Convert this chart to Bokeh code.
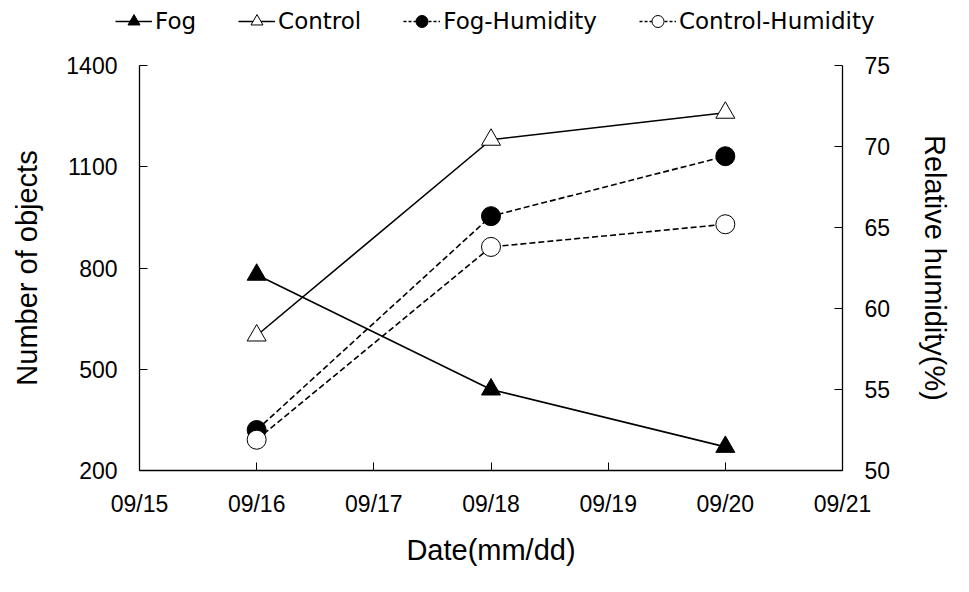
from bokeh.plotting import figure
from bokeh.models import Range1d, LinearAxis, Legend, LegendItem, FixedTicker
from bokeh.embed import file_html
from bokeh.resources import INLINE

dates = ["09/16", "09/18", "09/20"]
fog = [780, 440, 270]
control = [600, 1180, 1260]
fog_humidity = [52.5, 65.7, 69.4]
control_humidity = [51.9, 63.8, 65.2]
x_tick_labels = ["09/15", "09/16", "09/17", "09/18", "09/19", "09/20", "09/21"]
left_ticks = [200, 500, 800, 1100, 1400]
right_ticks = [50, 55, 60, 65, 70, 75]
series_names = ["Fog", "Control", "Fog-Humidity", "Control-Humidity"]

def day(s):
    return int(s.split("/")[1])

xs = [day(d) for d in dates]
tick_days = [day(t) for t in x_tick_labels]

W = 969
LEG_H = 40
H = 592 - LEG_H

p = figure(width=W, height=H, output_backend="svg", toolbar_location=None,
           x_range=Range1d(15, 21), y_range=Range1d(200, 1400),
           min_border_left=139, min_border_right=127, min_border_top=65 - LEG_H,
           min_border_bottom=122)
p.extra_y_ranges = {"hum": Range1d(50, 75)}
p.outline_line_color = None
p.xgrid.visible = False
p.ygrid.visible = False

TICK_FONT = "Liberation Sans"
LABEL_FONT = "Liberation Sans"

def style_axis(ax):
    ax.major_tick_in = 8
    ax.major_tick_out = 0
    ax.minor_tick_line_color = None
    ax.axis_line_color = "black"
    ax.axis_line_width = 1.3
    ax.major_tick_line_color = "black"
    ax.major_label_text_font = TICK_FONT
    ax.major_label_text_font_size = "23px"
    ax.major_label_text_color = "black"
    ax.axis_label_text_font = LABEL_FONT
    ax.axis_label_text_font_style = "normal"
    ax.axis_label_text_font_size = "29px"
    ax.axis_label_text_color = "black"

style_axis(p.xaxis[0])
p.xaxis[0].ticker = FixedTicker(ticks=tick_days)
p.xaxis[0].major_label_overrides = {d: t for d, t in zip(tick_days, x_tick_labels)}
p.xaxis[0].axis_label = "Date(mm/dd)"
p.xaxis[0].major_label_standoff = 20
p.xaxis[0].axis_label_standoff = 14

style_axis(p.yaxis[0])
p.yaxis[0].ticker = FixedTicker(ticks=left_ticks)
p.yaxis[0].axis_label = "Number of objects"
p.yaxis[0].major_label_standoff = 22
p.yaxis[0].axis_label_standoff = 20

ax2 = LinearAxis(y_range_name="hum", axis_label="Relative humidity(%)")
style_axis(ax2)
ax2.ticker = FixedTicker(ticks=right_ticks)
ax2.major_label_standoff = 22
ax2.axis_label_standoff = 26
p.add_layout(ax2, "right")

LW = 1.6
DASH = "6 3"
p.line(xs, fog, line_color="black", line_width=LW)
p.scatter(xs, fog, marker="triangle", size=19, fill_color="black", line_color="black")
p.line(xs, control, line_color="black", line_width=LW)
p.scatter(xs, control, marker="triangle", size=19, fill_color="white", line_color="black")
p.line(xs, fog_humidity, y_range_name="hum", line_color="black", line_width=LW, line_dash=DASH)
p.scatter(xs, fog_humidity, y_range_name="hum", marker="circle", size=19, fill_color="black", line_color="black")
p.line(xs, control_humidity, y_range_name="hum", line_color="black", line_width=LW, line_dash=DASH)
p.scatter(xs, control_humidity, y_range_name="hum", marker="circle", size=19, fill_color="white", line_color="black")

# legend strip above the plot (separate root so frames are not aligned)
lf = figure(width=W, height=LEG_H, output_backend="svg", toolbar_location=None,
            x_range=Range1d(0, 1), y_range=Range1d(0, 1),
            x_axis_type=None, y_axis_type=None,
            min_border_left=0, min_border_right=0, min_border_top=0, min_border_bottom=0)
lf.outline_line_color = None
lf.xgrid.visible = False
lf.ygrid.visible = False

series_vals = [fog, control, fog_humidity, control_humidity]
styles = [
    dict(marker="triangle", fill="black", dash="solid"),
    dict(marker="triangle", fill="white", dash="solid"),
    dict(marker="circle", fill="black", dash="3 2"),
    dict(marker="circle", fill="white", dash="3 2"),
]
items = []
for name, vals, st in zip(series_names, series_vals, styles):
    # proxies: real series values, which fall outside this strip's 0..1 view
    rl = lf.line(x=xs, y=vals, line_color="black", line_width=1.5, line_dash=st["dash"])
    rs = lf.scatter(x=xs, y=vals, marker=st["marker"], size=13, fill_color=st["fill"], line_color="black")
    items.append(LegendItem(label=name, renderers=[rl, rs]))

legend = Legend(items=items, orientation="horizontal", location=(115, 4))
legend.border_line_color = None
legend.background_fill_alpha = 0
legend.label_text_font = "DejaVu Sans"
legend.label_text_font_size = "23px"
legend.label_text_color = "black"
legend.glyph_width = 37
legend.glyph_height = 30
legend.spacing = 42
legend.label_standoff = 3
legend.padding = 0
legend.margin = 0
lf.add_layout(legend, "center")

open("out.html", "w").write(file_html([lf, p], INLINE))
